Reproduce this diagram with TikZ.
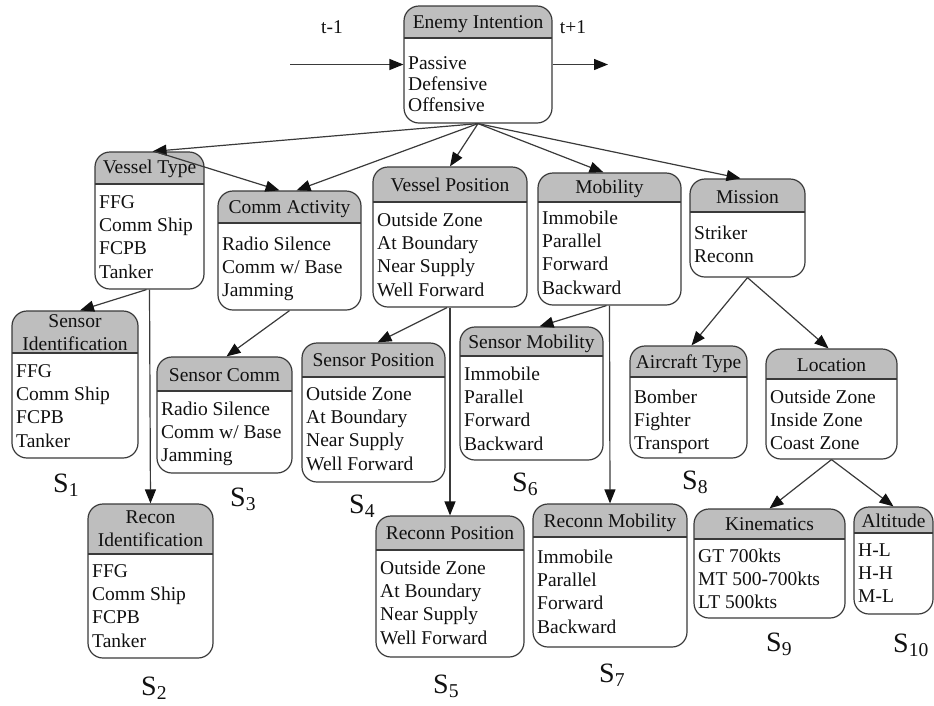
\documentclass[tikz,border=0pt]{standalone}
\usepackage{fontspec}
\setmainfont{Liberation Serif}
\usetikzlibrary{arrows.meta}
\definecolor{Ink}{HTML}{111111}
\definecolor{EdgeGray}{HTML}{3A3A3A}
\definecolor{HeadGray}{HTML}{BEBEBE}
\newcommand{\diagfont}{\rmfamily\fontsize{19.5}{23.3}\selectfont}
\tikzset{
  varBox/.style={rectangle,rounded corners=15pt,draw=EdgeGray,line width=1.2pt,fill=white,inner sep=0pt,
    path picture={\fill[HeadGray,sharp corners] (path picture bounding box.north west) rectangle ([yshift=-#1]path picture bounding box.north east);
      \draw[EdgeGray,line width=1.2pt,sharp corners] ([yshift=-#1]path picture bounding box.north west) -- ([yshift=-#1]path picture bounding box.north east);}},
  varTitle/.style={font=\diagfont,text=Ink,inner sep=0pt,anchor=base,align=center},
  varItems/.style={font=\diagfont,text=Ink,inner sep=0pt,anchor=base west,align=left},
  timeText/.style={font=\diagfont,text=Ink,inner sep=0pt,anchor=base},
  stateText/.style={font=\rmfamily\fontsize{28}{30}\selectfont,text=Ink,inner sep=0pt,anchor=base west},
  link/.style={-{Triangle[length=14pt,width=11pt,color=Ink]},draw=EdgeGray,line width=1.2pt}
}
\begin{document}
\begin{tikzpicture}[x=1pt,y=-1pt]
  \useasboundingbox (0,0) rectangle (934,705);
  % time slice t (item nodes sit on their last baseline)
  \node[varBox=32pt,minimum width=148,minimum height=117] (ei) at (478,64.5) {};
  \node[varTitle] (eiT) at (478,28.5) {Enemy Intention};
  \node[varItems,font=\rmfamily\fontsize{19.5}{21}\selectfont] (eiV) at (408,111) {Passive\\Defensive\\Offensive};
  \coordinate (prev) at (290,64.5);
  \coordinate (next) at (608,64.5);
  \node[timeText] (tprev) at (332,33) {t-1};
  \node[timeText] (tnext) at (573,33) {t+1};
  % second row
  \node[varBox=32pt,minimum width=109,minimum height=137] (vtype) at (149.5,220.5) {};
  \node[varTitle] (vtypeT) at (149.5,173) {Vessel Type};
  \node[varItems] (vtypeV) at (99,278) {FFG\\Comm Ship\\FCPB\\Tanker};
  \node[varBox=32pt,minimum width=143,minimum height=119] (ca) at (289.5,250.5) {};
  \node[varTitle] (caT) at (289.5,213) {Comm Activity};
  \node[varItems] (caV) at (222,296.6) {Radio Silence\\Comm w/ Base\\Jamming};
  \node[varBox=35pt,minimum width=154,minimum height=140] (vpos) at (450,237) {};
  \node[varTitle] (vposT) at (450,191) {Vessel Position};
  \node[varItems] (vposV) at (377,296) {Outside Zone\\At Boundary\\Near Supply\\Well Forward};
  \node[varBox=29pt,minimum width=143,minimum height=132] (mob) at (609.5,239) {};
  \node[varTitle] (mobT) at (609.5,193) {Mobility};
  \node[varItems] (mobV) at (542,294) {Immobile\\Parallel\\Forward\\Backward};
  \node[varBox=33pt,minimum width=115,minimum height=98] (mis) at (747.5,228) {};
  \node[varTitle] (misT) at (747.5,203) {Mission};
  \node[varItems] (misV) at (694,262.3) {Striker\\Reconn};
  % sensor row
  \node[varBox=42pt,minimum width=126,minimum height=147] (sid) at (75,384.5) {};
  \node[varTitle] (sidT) at (75,350.3) {Sensor\\Identification};
  \node[varItems] (sidV) at (16,447) {FFG\\Comm Ship\\FCPB\\Tanker};
  \node[varBox=34pt,minimum width=135,minimum height=116] (scomm) at (224.5,415) {};
  \node[varTitle] (scommT) at (224.5,381) {Sensor Comm};
  \node[varItems] (scommV) at (161,461.6) {Radio Silence\\Comm w/ Base\\Jamming};
  \node[varBox=34pt,minimum width=143,minimum height=139] (spos) at (373.5,412.5) {};
  \node[varTitle] (sposT) at (373.5,366) {Sensor Position};
  \node[varItems] (sposV) at (306,470) {Outside Zone\\At Boundary\\Near Supply\\Well Forward};
  \node[varBox=29pt,minimum width=143,minimum height=133] (smob) at (531.5,393.5) {};
  \node[varTitle] (smobT) at (531.5,348) {Sensor Mobility};
  \node[varItems] (smobV) at (464,450) {Immobile\\Parallel\\Forward\\Backward};
  \node[varBox=31pt,minimum width=117,minimum height=112] (atype) at (688.5,402) {};
  \node[varTitle] (atypeT) at (688.5,368) {Aircraft Type};
  \node[varItems] (atypeV) at (634,449.6) {Bomber\\Fighter\\Transport};
  \node[varBox=30pt,minimum width=131,minimum height=110] (loc) at (831.5,404) {};
  \node[varTitle] (locT) at (831.5,371) {Location};
  \node[varItems] (locV) at (770,449.6) {Outside Zone\\Inside Zone\\Coast Zone};
  % recon row
  \node[varBox=50pt,minimum width=125,minimum height=154] (recid) at (150.5,581) {};
  \node[varTitle] (recidT) at (150.5,546.3) {Recon\\Identification};
  \node[varItems] (recidV) at (92,647) {FFG\\Comm Ship\\FCPB\\Tanker};
  \node[varBox=34pt,minimum width=148,minimum height=141] (rpos) at (450,586.5) {};
  \node[varTitle] (rposT) at (450,539) {Reconn Position};
  \node[varItems] (rposV) at (380,644) {Outside Zone\\At Boundary\\Near Supply\\Well Forward};
  \node[varBox=33pt,minimum width=154,minimum height=143] (rmob) at (610,575.5) {};
  \node[varTitle] (rmobT) at (610,527) {Reconn Mobility};
  \node[varItems] (rmobV) at (537,633) {Immobile\\Parallel\\Forward\\Backward};
  \node[varBox=30pt,minimum width=151,minimum height=109] (kin) at (769.5,563.5) {};
  \node[varTitle] (kinT) at (769.5,530) {Kinematics};
  \node[varItems] (kinV) at (698,608.6) {GT 700kts\\MT 500-700kts\\LT 500kts};
  \node[varBox=26pt,minimum width=79,minimum height=107] (alt) at (893.5,560.5) {};
  \node[varTitle] (altT) at (893.5,527) {Altitude};
  \node[varItems] (altV) at (858,602.6) {H-L\\H-H\\M-L};
  % sensor labels
  \node[stateText] (s1) at (53,492) {S\textsubscript{1}};
  \node[stateText] (s2) at (141,695) {S\textsubscript{2}};
  \node[stateText] (s3) at (230,506) {S\textsubscript{3}};
  \node[stateText] (s4) at (349,513) {S\textsubscript{4}};
  \node[stateText] (s5) at (433,693) {S\textsubscript{5}};
  \node[stateText] (s6) at (512,491) {S\textsubscript{6}};
  \node[stateText] (s7) at (599,682) {S\textsubscript{7}};
  \node[stateText] (s8) at (682,489) {S\textsubscript{8}};
  \node[stateText] (s9) at (766,651) {S\textsubscript{9}};
  \node[stateText] (s10) at (893,652) {S\textsubscript{10}};
  % links
  \draw[link] (prev) -- (ei.west);
  \draw[link] (ei.east) -- (next);
  \draw[link] (ei.south) -- ([xshift=3]vtype.north);
  \draw[link] (ei.south) -- ([xshift=7]ca.north);
  \draw[link] ([xshift=5]vtype.north) -- ([xshift=-10]ca.north);
  \draw[link] (ei.south) -- (vpos.north);
  \draw[link] (ei.south) -- ([xshift=-6]mob.north);
  \draw[link] (ei.south) -- ([xshift=-7]mis.north);
  \draw[link] ([xshift=-3]vtype.south) -- ([xshift=5]sid.north);
  \draw[link] (vtype.south) -- (recid.north);
  \draw[link] (ca.south) -- ([xshift=2]scomm.north);
  \draw[link] ([xshift=-3]vpos.south) -- ([xshift=4]spos.north);
  \draw[link] (vpos.south) -- (rpos.north);
  \draw[link] ([xshift=-3]mob.south) -- ([xshift=8]smob.north);
  \draw[link] (mob.south) -- (rmob.north);
  \draw[link] (mis.south) -- ([xshift=3]atype.north);
  \draw[link] (mis.south) -- ([xshift=-3]loc.north);
  \draw[link] (loc.south) -- (kin.north);
  \draw[link] (loc.south) -- (alt.north);
\end{tikzpicture}
\end{document}
